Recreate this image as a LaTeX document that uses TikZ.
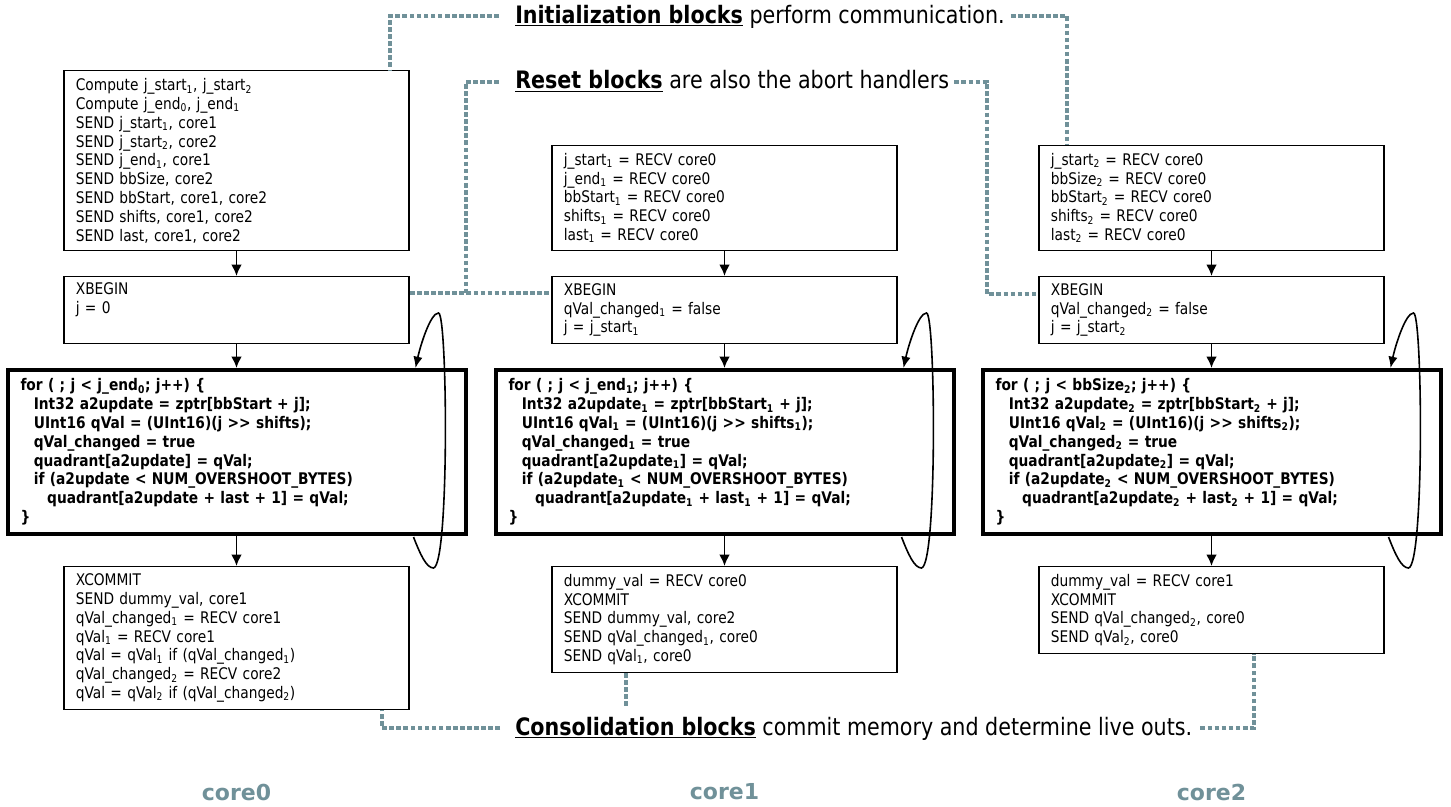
\documentclass[tikz,border=0pt]{standalone}
\usepackage{fontspec}
\setmainfont{DejaVu Sans}[FakeStretch=0.86]
\newfontfamily\widefont{DejaVu Sans}
\usetikzlibrary{arrows.meta}

\definecolor{dotgray}{RGB}{112,145,153}
\newcommand{\ix}[1]{\textsubscript{#1}}
\newcommand{\boxfont}{\fontsize{12pt}{14.1pt}\selectfont}
\newcommand{\lblfont}{\fontsize{18pt}{21pt}\selectfont}
\newcommand{\ind}{\hspace*{10pt}}

\begin{document}
\begin{tikzpicture}[x=0.75pt,y=-0.75pt,
  blk/.style={draw,line width=1.1pt,anchor=north,inner xsep=9pt,inner ysep=0pt,
    text width=241pt,align=left,font=\boxfont},
  hotblk/.style={draw,line width=3pt,anchor=north,inner xsep=9.75pt,inner ysep=0pt,
    text width=324pt,align=left,font=\boxfont\bfseries},
  arr/.style={line width=1.4pt,-{Latex[length=8.5pt,width=8pt]}},
  loopln/.style={line width=1.2pt,-{Latex[length=8.5pt,width=7pt]}},
  dotln/.style={dotgray,line width=3pt,dash pattern=on 3.5pt off 1.8pt},
  lbl/.style={anchor=base west,inner sep=0pt,font=\lblfont},
  corelbl/.style={inner sep=0pt,text=dotgray,font=\widefont\fontsize{16.5pt}{19pt}\selectfont\bfseries}]
\path[use as bounding box,fill=white] (0,0) rectangle (1451,806);

% core0
\node[blk,minimum height=135pt] (init0) at (236.5,70) {Compute j\_start\ix{1}, j\_start\ix{2}\\
  Compute j\_end\ix{0}, j\_end\ix{1}\\ SEND j\_start\ix{1}, core1\\ SEND j\_start\ix{2}, core2\\
  SEND j\_end\ix{1}, core1\\ SEND bbSize, core2\\ SEND bbStart, core1, core2\\
  SEND shifts, core1, core2\\ SEND last, core1, core2};
\node[blk,minimum height=49.9pt] (xb0) at (236.5,276) {XBEGIN\\ j = 0\\ \strut};
\node[hotblk,minimum height=123pt] (b0) at (236.5,368) {for ( ; j < j\_end\ix{0}; j++) \{\\
  \ind Int32 a2update = zptr[bbStart + j];\\
  \ind UInt16 qVal = (UInt16)(j >{}> shifts);\\
  \ind qVal\_changed = true\\
  \ind quadrant[a2update] = qVal;\\
  \ind if (a2update < NUM\_OVERSHOOT\_BYTES)\\
  \ind\ind quadrant[a2update + last + 1] = qVal;\\ \}};
\node[blk,minimum height=106.9pt] (bot0) at (236.5,566) {XCOMMIT\\ SEND dummy\_val, core1\\
  qVal\_changed\ix{1} = RECV core1\\ qVal\ix{1} = RECV core1\\
  qVal = qVal\ix{1} if (qVal\_changed\ix{1})\\ qVal\_changed\ix{2} = RECV core2\\
  qVal = qVal\ix{2} if (qVal\_changed\ix{2})};

% core1
\node[blk,minimum height=78.4pt] (init1) at (724.5,145) {j\_start\ix{1} = RECV core0\\
  j\_end\ix{1} = RECV core0\\ bbStart\ix{1} = RECV core0\\ shifts\ix{1} = RECV core0\\
  last\ix{1} = RECV core0};
\node[blk,minimum height=49.9pt] (xb1) at (724.5,276) {XBEGIN\\ qVal\_changed\ix{1} = false\\
  j = j\_start\ix{1}};
\node[hotblk,minimum height=123pt] (b1) at (724.5,368) {for ( ; j < j\_end\ix{1}; j++) \{\\
  \ind Int32 a2update\ix{1} = zptr[bbStart\ix{1} + j];\\
  \ind UInt16 qVal\ix{1} = (UInt16)(j >{}> shifts\ix{1});\\
  \ind qVal\_changed\ix{1} = true\\
  \ind quadrant[a2update\ix{1}] = qVal;\\
  \ind if (a2update\ix{1} < NUM\_OVERSHOOT\_BYTES)\\
  \ind\ind quadrant[a2update\ix{1} + last\ix{1} + 1] = qVal;\\ \}};
\node[blk,minimum height=79.2pt] (bot1) at (724.5,566) {dummy\_val = RECV core0\\ XCOMMIT\\
  SEND dummy\_val, core2\\ SEND qVal\_changed\ix{1}, core0\\ SEND qVal\ix{1}, core0};

% core2
\node[blk,minimum height=78.4pt] (init2) at (1211.5,145) {j\_start\ix{2} = RECV core0\\
  bbSize\ix{2} = RECV core0\\ bbStart\ix{2} = RECV core0\\ shifts\ix{2} = RECV core0\\
  last\ix{2} = RECV core0};
\node[blk,minimum height=49.9pt] (xb2) at (1211.5,276) {XBEGIN\\ qVal\_changed\ix{2} = false\\
  j = j\_start\ix{2}};
\node[hotblk,minimum height=123pt] (b2) at (1211.5,368) {for ( ; j < bbSize\ix{2}; j++) \{\\
  \ind Int32 a2update\ix{2} = zptr[bbStart\ix{2} + j];\\
  \ind UInt16 qVal\ix{2} = (UInt16)(j >{}> shifts\ix{2});\\
  \ind qVal\_changed\ix{2} = true\\
  \ind quadrant[a2update\ix{2}] = qVal;\\
  \ind if (a2update\ix{2} < NUM\_OVERSHOOT\_BYTES)\\
  \ind\ind quadrant[a2update\ix{2} + last\ix{2} + 1] = qVal;\\ \}};
\node[blk,minimum height=64.9pt] (bot2) at (1211.5,566) {dummy\_val = RECV core1\\ XCOMMIT\\
  SEND qVal\_changed\ix{2}, core0\\ SEND qVal\ix{2}, core0};

% flow and loop back
\foreach \k in {0,1,2} {
  \draw[arr] (init\k) -- (xb\k);
  \draw[arr] (xb\k) -- (b\k);
  \draw[arr] (b\k) -- (bot\k);
  \draw[loopln,shift={(b\k.north east)}] (-54,169) .. controls (-47,187) and (-41,200) .. (-34,200)
    .. controls (-18,197) and (-20,-55) .. (-29,-55)
    .. controls (-37,-55) and (-47,-23) .. (-52,0);
}

% labels
\node[lbl] (initlbl) at (515,23.5) {\underline{\textbf{Initialization blocks}} perform communication.};
\node[lbl] (rstlbl) at (515,89) {\underline{\textbf{Reset blocks}} are also the abort handlers};
\node[lbl] (conlbl) at (515,735) {\underline{\textbf{Consolidation blocks}} commit memory and determine live outs.};
\node[corelbl] (c0) at (236.5,792) {core0};
\node[corelbl] (c1) at (724.5,792) {core1};
\node[corelbl] (c2) at (1211.5,792) {core2};

% dotted connectors
\coordinate (rj) at (466,293);
\coordinate (cend) at (626,707);
\draw[dotln] ([shift={(-12pt,2.8pt)}]initlbl.mid west) -| ([xshift=-15pt]init0.north east);
\draw[dotln] ([shift={(4.5pt,2.8pt)}]initlbl.mid east) -| ([xshift=21.75pt]init2.north west);
\draw[dotln] ([shift={(-12pt,2.8pt)}]rstlbl.mid west) -| (rj);
\draw[dotln] ([yshift=-12.75pt]xb0.north east) -- ([yshift=-12.75pt]xb1.north west);
\draw[dotln] ([shift={(3.75pt,2.8pt)}]rstlbl.mid east) -| ([shift={(-38.25pt,-13.5pt)}]xb2.north west)
  -- ([yshift=-13.5pt]xb2.north west);
\draw[dotln] ([shift={(-11.25pt,2.8pt)}]conlbl.mid west) -| ([xshift=-21pt]bot0.south east);
\draw[dotln] (cend |- bot1.south) -- (cend);
\draw[dotln] ([shift={(6pt,2.8pt)}]conlbl.mid east) -| ([xshift=31.9pt]bot2.south);
\end{tikzpicture}
\end{document}
